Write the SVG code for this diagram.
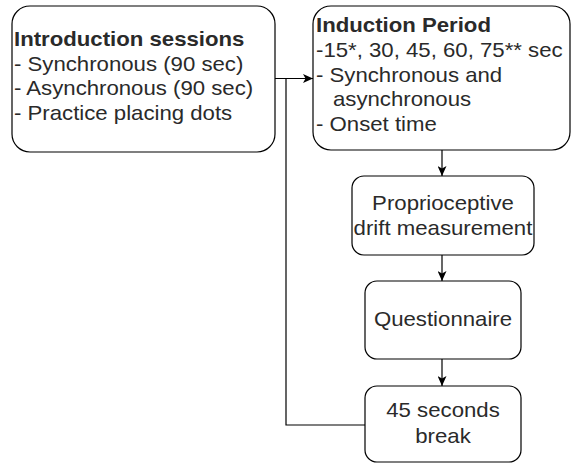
<svg xmlns="http://www.w3.org/2000/svg" width="571" height="463" viewBox="0 0 571 463">
  <style>
    .box { fill: #ffffff; stroke: #000000; stroke-width: 1.2; }
    .t { font-family: "Liberation Sans", Arial, sans-serif; font-size: 20px; fill: #2a2a2a; }
    .b { font-weight: bold; }
    .c { text-anchor: middle; }
    .wire { fill: none; stroke: #000000; stroke-width: 1.2; }
  </style>
  <defs>
    <marker id="arrow" viewBox="0 0 10 9" refX="10" refY="4.5" markerWidth="10" markerHeight="9" markerUnits="userSpaceOnUse" orient="auto">
      <path d="M0,0 L10,4.5 L0,9 L2.5,4.5 Z" fill="#000000"/>
    </marker>
  </defs>
  <rect width="571" height="463" fill="#ffffff"/>

  <g id="connectors">
    <path class="wire" d="M275,78.5 H313" marker-end="url(#arrow)"/>
    <path class="wire" d="M286,78.5 V425 H365"/>
    <path class="wire" d="M442,150 V176" marker-end="url(#arrow)"/>
    <path class="wire" d="M442,255 V281" marker-end="url(#arrow)"/>
    <path class="wire" d="M442,359 V386" marker-end="url(#arrow)"/>
  </g>

  <!-- labels use a slightly widened face: each line is placed by translate, then stretched horizontally -->
  <g id="intro">
    <rect class="box" x="12" y="6" width="263" height="146" rx="18"/>
    <text class="t b" transform="translate(14,46) scale(1.11,1)">Introduction sessions</text>
    <text class="t" transform="translate(14,70.5) scale(1.11,1)">- Synchronous (90 sec)</text>
    <text class="t" transform="translate(14,95) scale(1.11,1)">- Asynchronous (90 sec)</text>
    <text class="t" transform="translate(14,119.5) scale(1.11,1)">- Practice placing dots</text>
  </g>

  <g id="induction">
    <rect class="box" x="313" y="6" width="257" height="144" rx="18"/>
    <text class="t b" transform="translate(316,31.5) scale(1.11,1)">Induction Period</text>
    <text class="t" transform="translate(316,56.5) scale(1.11,1)">-15*, 30, 45, 60, 75** sec</text>
    <text class="t" transform="translate(316,81.5) scale(1.11,1)">- Synchronous and</text>
    <text class="t" transform="translate(333,106) scale(1.11,1)">asynchronous</text>
    <text class="t" transform="translate(316,131) scale(1.11,1)">- Onset time</text>
  </g>

  <g id="drift">
    <rect class="box" x="352" y="176" width="182" height="79" rx="12"/>
    <text class="t c" transform="translate(443,209.5) scale(1.11,1)">Proprioceptive</text>
    <text class="t c" transform="translate(443,235) scale(1.11,1)">drift measurement</text>
  </g>

  <g id="questionnaire">
    <rect class="box" x="365" y="281" width="156" height="78" rx="12"/>
    <text class="t c" transform="translate(443,326) scale(1.11,1)">Questionnaire</text>
  </g>

  <g id="break">
    <rect class="box" x="365" y="386" width="156" height="76" rx="12"/>
    <text class="t c" transform="translate(443,417) scale(1.11,1)">45 seconds</text>
    <text class="t c" transform="translate(443,443) scale(1.11,1)">break</text>
  </g>
</svg>
